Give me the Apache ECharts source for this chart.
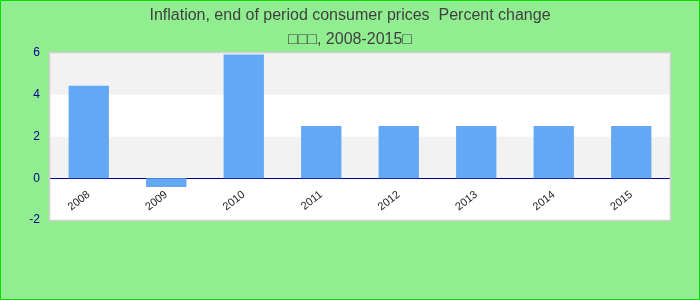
<!DOCTYPE html>
<html><head><meta charset="utf-8">
<script src="https://cdn.jsdelivr.net/npm/echarts@6/dist/echarts.min.js"></script>
<style>html,body{margin:0;padding:0;}#c{width:700px;height:300px;}</style>
</head><body><div id="c"></div>
<script>
const titleLines = ["Inflation, end of period consumer prices  Percent change", "\u25A1\u25A1\u25A1, 2008-2015\u25A1"];
const categories = ["2008","2009","2010","2011","2012","2013","2014","2015"];
const values = [4.43, -0.42, 5.93, 2.5, 2.5, 2.5, 2.5, 2.5];
const yTicks = {min: -2, max: 6, interval: 2};

const W = 700, H = 300;
const G = {left: 50, right: 30, top: 53, bottom: 80};
const gridH = H - G.top - G.bottom;
// distance of zero line from grid bottom, derived from the y scale
const zeroOffset = gridH * (0 - yTicks.min) / (yTicks.max - yTicks.min);

const chart = echarts.init(document.getElementById('c'), null, {renderer: 'canvas'});
chart.setOption({
  backgroundColor: '#90EE90',
  animation: false,
  title: {
    text: titleLines.join('\n'),
    left: 'center', top: -1,
    textStyle: {color: '#404040', fontSize: 16, fontWeight: 'normal', fontFamily: 'Liberation Sans, Arial, sans-serif', lineHeight: 24}
  },
  graphic: [
    {type: 'rect', z: 100, silent: true, shape: {x: 0.5, y: 0.5, width: W - 1, height: H - 1}, style: {fill: 'none', stroke: '#00e000', lineWidth: 1}},
    {type: 'rect', z: 100, silent: true, shape: {x: G.left - 0.5, y: G.top - 0.5, width: W - G.left - G.right + 1, height: gridH + 1}, style: {fill: 'none', stroke: '#d0d0d0', lineWidth: 1.5}}
  ],
  grid: Object.assign({show: true, backgroundColor: '#ffffff', borderWidth: 0}, G),
  xAxis: {
    type: 'category', data: categories,
    offset: -zeroOffset,
    axisLine: {onZero: false, lineStyle: {color: '#00008b', width: 1}},
    axisTick: {show: false},
    axisLabel: {rotate: 38, color: '#222', fontSize: 11, fontFamily: 'Liberation Sans, Arial, sans-serif', margin: 15},
    splitLine: {show: false}
  },
  yAxis: {
    type: 'value', min: yTicks.min, max: yTicks.max, interval: yTicks.interval,
    axisLine: {show: false}, axisTick: {show: false},
    axisLabel: {color: '#00008b', fontSize: 12, fontFamily: 'Liberation Sans, Arial, sans-serif', margin: 10},
    splitLine: {show: false},
    splitArea: {show: true, areaStyle: {color: ['#ffffff', '#f2f2f2']}}
  },
  series: [{
    type: 'bar', data: values, barWidth: '52%',
    itemStyle: {color: '#62a8f5'}
  }]
});
</script></body></html>
